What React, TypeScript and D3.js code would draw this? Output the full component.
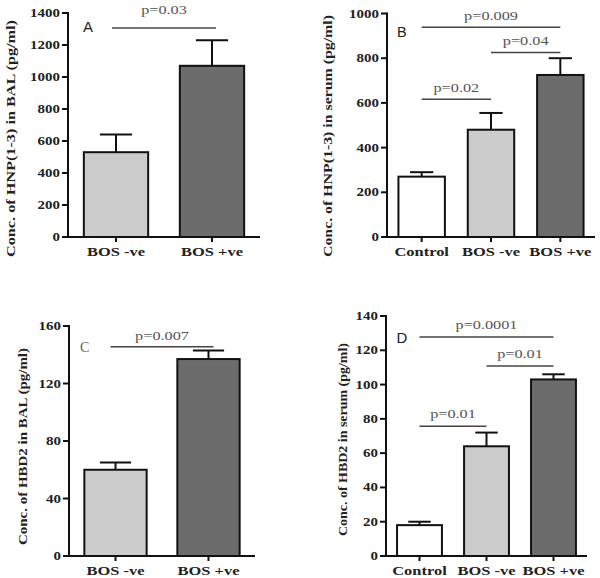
import React from "react";
import * as d3 from "d3";

// ---------- data ----------
const groupsTwo = ["BOS -ve", "BOS +ve"];
const groupsThree = ["Control", "BOS -ve", "BOS +ve"];

const hnpBalMean = [530, 1070];
const hnpBalUpper = [640, 1230];
const hnpSerumMean = [270, 480, 725];
const hnpSerumUpper = [290, 555, 800];
const hbdBalMean = [60, 137];
const hbdBalUpper = [65, 143];
const hbdSerumMean = [18, 64, 103];
const hbdSerumUpper = [20, 72, 106];

const ticksA = [0, 200, 400, 600, 800, 1000, 1200, 1400];
const ticksB = [0, 200, 400, 600, 800, 1000];
const ticksC = [0, 40, 80, 120, 160];
const ticksD = [0, 20, 40, 60, 80, 100, 120, 140];

const sigA = [{ from: 0, to: 1, y: 1306, label: "p=0.03" }];
const sigB = [
  { from: 0, to: 2, y: 938, label: "p=0.009" },
  { from: 1, to: 2, y: 826, label: "p=0.04" },
  { from: 0, to: 1, y: 616, label: "p=0.02" },
];
const sigC = [{ from: 0, to: 1, y: 145.6, label: "p=0.007" }];
const sigD = [
  { from: 0, to: 2, y: 127.7, label: "p=0.0001" },
  { from: 1, to: 2, y: 110.8, label: "p=0.01" },
  { from: 0, to: 1, y: 75.7, label: "p=0.01" },
];

const groupFill: Record<string, string> = {
  Control: "#ffffff",
  "BOS -ve": "#cbcbcb",
  "BOS +ve": "#6c6c6c",
};

// ---------- layout ----------
const panels = [
  {
    letter: "A", letterFont: "Liberation Sans", letterColor: "#222", letterX: 83, letterY: 32, letterSize: 15,
    cats: groupsTwo, mean: hnpBalMean, upper: hnpBalUpper, ticks: ticksA, max: 1400,
    x0: 68, x1: 260, yb: 237, yt: 13,
    yLabel: "Conc. of HNP(1-3) in BAL (pg/ml)", yLabelX: 10, yLabelY: 138.5, yLabelLen: 237,
    sig: sigA, sigGap: 14, sigExt: 4,
  },
  {
    letter: "B", letterFont: "Liberation Sans", letterColor: "#222", letterX: 397, letterY: 37, letterSize: 14.5,
    cats: groupsThree, mean: hnpSerumMean, upper: hnpSerumUpper, ticks: ticksB, max: 1000,
    x0: 387, x1: 595, yb: 237, yt: 13.5,
    yLabel: "Conc. of HNP(1-3) in serum (pg/ml)", yLabelX: 327, yLabelY: 136, yLabelLen: 242,
    sig: sigB, sigGap: 7, sigExt: 0,
  },
  {
    letter: "C", letterFont: "Liberation Serif", letterColor: "#666", letterX: 80, letterY: 352, letterSize: 14,
    cats: groupsTwo, mean: hbdBalMean, upper: hbdBalUpper, ticks: ticksC, max: 160,
    x0: 69, x1: 255, yb: 556, yt: 326,
    yLabel: "Conc. of HBD2 in BAL (pg/ml)", yLabelX: 22.5, yLabelY: 446.5, yLabelLen: 197,
    sig: sigC, sigGap: 6.7, sigExt: 5,
  },
  {
    letter: "D", letterFont: "Liberation Sans", letterColor: "#222", letterX: 396.5, letterY: 342.5, letterSize: 15,
    cats: groupsThree, mean: hbdSerumMean, upper: hbdSerumUpper, ticks: ticksD, max: 140,
    x0: 386, x1: 587, yb: 556, yt: 316,
    yLabel: "Conc. of HBD2 in serum (pg/ml)", yLabelX: 342, yLabelY: 439.5, yLabelLen: 193,
    sig: sigD, sigGap: 8.5, sigExt: 0,
  },
];

const SERIF = "'Liberation Serif', 'Times New Roman', serif";
const INK = "#111";

function Panel({ p }: { p: any }) {
  const x = d3.scalePoint<string>().domain(p.cats).range([p.x0, p.x1]).padding(0.5);
  const bw = x.step() * 0.67;
  const y = d3.scaleLinear().domain([0, p.max]).range([p.yb, p.yt]);
  const cx = (i: number) => x(p.cats[i]) as number;

  return (
    <g>
      {/* bars */}
      {p.cats.map((c: string, i: number) => {
        const xc = cx(i);
        return (
          <g key={c}>
            <line x1={xc} x2={xc} y1={y(p.mean[i])} y2={y(p.upper[i])} stroke={INK} strokeWidth={2} />
            <line x1={xc - bw / 4} x2={xc + bw / 4} y1={y(p.upper[i])} y2={y(p.upper[i])} stroke={INK} strokeWidth={2} />
            <rect x={xc - bw / 2} y={y(p.mean[i])} width={bw} height={y(0) - y(p.mean[i])}
              fill={groupFill[c]} stroke={INK} strokeWidth={2} />
          </g>
        );
      })}
      {/* y axis */}
      <line x1={p.x0} x2={p.x0} y1={y(0) + 1} y2={y(p.max) - 1} stroke={INK} strokeWidth={2} />
      {p.ticks.map((t: number) => (
        <g key={t}>
          <line x1={p.x0 - 6} x2={p.x0} y1={y(t)} y2={y(t)} stroke={INK} strokeWidth={2} />
          <text transform={`translate(${p.x0 - 8},${y(t) + 4}) scale(1.3,1)`} textAnchor="end"
            fontFamily={SERIF} fontWeight="bold" fontSize={11.5} fill="#222">{t}</text>
        </g>
      ))}
      {/* x axis */}
      <line x1={p.x0 - 1} x2={p.x1} y1={y(0)} y2={y(0)} stroke={INK} strokeWidth={2} />
      {p.cats.map((c: string, i: number) => (
        <g key={c}>
          <line x1={cx(i)} x2={cx(i)} y1={y(0)} y2={y(0) + 5} stroke={INK} strokeWidth={2} />
          <text transform={`translate(${cx(i)},${y(0) + 18.5}) scale(1.22,1)`} textAnchor="middle"
            fontFamily={SERIF} fontWeight="bold" fontSize={13.5} fill="#222">{c}</text>
        </g>
      ))}
      {/* y label */}
      <text transform={`translate(${p.yLabelX},${p.yLabelY}) rotate(-90)`} textAnchor="middle" dy="0.35em"
        fontFamily={SERIF} fontWeight="bold" fontSize={13} fill="#222"
        textLength={p.yLabelLen} lengthAdjust="spacingAndGlyphs">{p.yLabel}</text>
      {/* significance */}
      {p.sig.map((s: any, k: number) => {
        const xa = cx(s.from) - p.sigExt, xb = cx(s.to) + p.sigExt;
        return (
          <g key={k}>
            <line x1={xa} x2={xb} y1={y(s.y)} y2={y(s.y)} stroke="#444" strokeWidth={1.5} />
            <text transform={`translate(${(xa + xb) / 2},${y(s.y) - p.sigGap}) scale(1.25,1)`} textAnchor="middle"
              fontFamily={SERIF} fontSize={13} fill="#555">{s.label}</text>
          </g>
        );
      })}
      {/* panel letter */}
      <text x={p.letterX} y={p.letterY} fontFamily={p.letterFont} fontSize={p.letterSize} fill={p.letterColor}>{p.letter}</text>
    </g>
  );
}

export default function App() {
  return (
    <svg width={600} height={578} viewBox="0 0 600 578"
      style={{ position: "absolute", left: 0, top: 0, background: "#fff" }}>
      <rect width={600} height={578} fill="#fff" />
      {panels.map((p) => <Panel key={p.letter} p={p} />)}
    </svg>
  );
}
